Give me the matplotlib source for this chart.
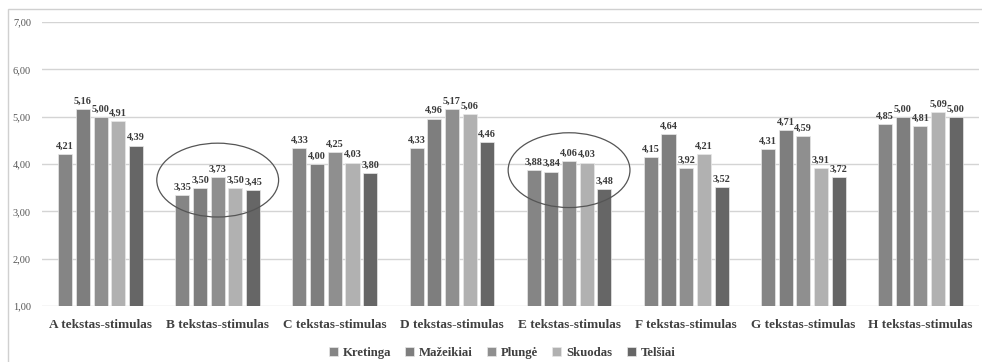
import matplotlib
matplotlib.use("Agg")
import matplotlib.pyplot as plt
from matplotlib.patches import Ellipse, Rectangle
import numpy as np

categories = ["A tekstas-stimulas", "B tekstas-stimulas", "C tekstas-stimulas",
              "D tekstas-stimulas", "E tekstas-stimulas", "F tekstas-stimulas",
              "G tekstas-stimulas", "H tekstas-stimulas"]
towns = ["Kretinga", "Mažeikiai", "Plungė", "Skuodas", "Telšiai"]

kretinga = [4.21, 3.35, 4.33, 4.33, 3.88, 4.15, 4.31, 4.85]
mazeikiai = [5.16, 3.50, 4.00, 4.96, 3.84, 4.64, 4.71, 5.00]
plunge = [5.00, 3.73, 4.25, 5.17, 4.06, 3.92, 4.59, 4.81]
skuodas = [4.91, 3.50, 4.03, 5.06, 4.03, 4.21, 3.91, 5.09]
telsiai = [4.39, 3.45, 3.80, 4.46, 3.48, 3.52, 3.72, 5.00]

yticks = [1, 2, 3, 4, 5, 6, 7]
# highlighted groups: (category index, y centre, height)
circled = [(1, 3.66, 1.56), (4, 3.87, 1.58)]

series = [kretinga, mazeikiai, plunge, skuodas, telsiai]
colors = ["#858585", "#7e7e7e", "#8f8f8f", "#b1b1b1", "#666666"]

plt.rcParams['font.family'] = ['Liberation Serif', 'DejaVu Serif']
plt.rcParams['font.weight'] = 'bold'

fig = plt.figure(figsize=(9.82, 3.62), dpi=100)
ax = fig.add_axes([42 / 982, 1 - 306 / 362, (979 - 42) / 982, (306 - 22) / 362])

# outer frame of the chart
fig.patches.append(Rectangle((8 / 982, -0.05), 1.05, 1 - 9 / 362 + 0.05,
                             transform=fig.transFigure, fill=False,
                             edgecolor="#d0d0d0", linewidth=1.0))

x = np.arange(len(categories))
width = 0.12
step = 0.151
for i, (vals, col, name) in enumerate(zip(series, colors, towns)):
    pos = x + (i - 2) * step
    ax.bar(pos, np.array(vals) - 1, width, bottom=1, color=col,
           edgecolor="#e8e8e8", linewidth=0.5, label=name, zorder=3)
    for px, v in zip(pos, vals):
        ax.text(px, v + 0.07, f"{v:.2f}".replace(".", ","), ha="center",
                va="bottom", fontsize=7.3, color="#3a3a3a", zorder=4)

for ci, yc, h in circled:
    ax.add_patch(Ellipse((ci, yc), 1.04, h, fill=False, edgecolor="#555555",
                         linewidth=0.9, zorder=5))

ax.set_xlim(-0.5, len(categories) - 0.5)
ax.set_ylim(1, 7)
ax.set_yticks(yticks)
ax.set_yticklabels([f"{t:.2f}".replace(".", ",") for t in yticks],
                   fontsize=7.5, color="#555555", fontweight="normal")
ax.set_xticks(x)
ax.set_xticklabels(categories, fontsize=9.5, color="#404040")
ax.tick_params(axis="both", length=0)
ax.tick_params(axis="y", pad=8)
ax.tick_params(axis="x", pad=9)
for s in ax.spines.values():
    s.set_visible(False)
ax.grid(axis="y", color="#d4d4d4", linewidth=1.0, zorder=0)
ax.set_axisbelow(True)

fig.legend(loc="center", bbox_to_anchor=(502 / 982, 1 - 353 / 362), ncol=5,
           frameon=False, fontsize=9.2, handlelength=0.7, handleheight=0.7,
           handletextpad=0.4, columnspacing=1.1, labelcolor="#404040")

fig.savefig("out.png", dpi=100)
